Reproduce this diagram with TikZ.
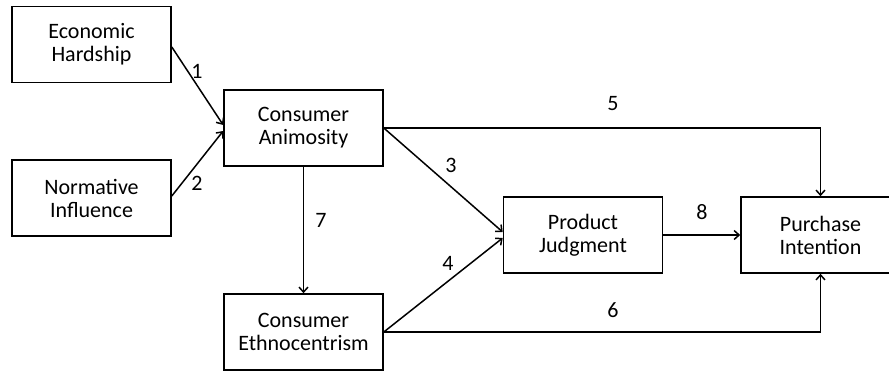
\documentclass[tikz,border=0pt]{standalone}
\usepackage{fontspec}
\setmainfont{Carlito}
\usetikzlibrary{arrows.meta}

\tikzset{
  factor/.style={draw=black, line width=1.6pt, minimum width=159pt, minimum height=76pt,
    inner sep=0pt, align=center, font=\fontsize{22}{23}\selectfont},
  path/.style={line width=1.5pt, -{Straight Barb[length=5pt,width=9pt,line width=1.5pt]}},
  num/.style={font=\fontsize{22}{23}\selectfont}
}

\begin{document}
\begin{tikzpicture}[x=1pt, y=-1pt]
  \useasboundingbox (0,0) rectangle (889,371);

  % boxes
  \node[factor] (hardship) at (91.5, 44.5) {Economic\\Hardship};
  \node[factor] (normative) at (91.5, 198) {Normative\\Influence};
  \node[factor] (animosity) at (303.5, 128) {Consumer\\Animosity};
  \node[factor] (ethno) at (303.5, 332) {Consumer\\Ethnocentrism};
  \node[factor] (judgment) at (583, 235) {Product\\Judgment};
  \node[factor] (intention) at (820.5, 235) {Purchase\\Intention};

  % paths
  \draw[path] (hardship.east |- 0,47) -- (animosity.west |- 0,125);
  \draw[path] (normative.east |- 0,196) -- (animosity.west |- 0,131);
  \draw[path] (animosity) -- (ethno);
  \draw[path] (animosity.east) -- (judgment.west |- 0,232);
  \draw[path] (ethno.east) -- (judgment.west |- 0,238);
  \draw[path] (animosity.east) -| (intention.north);
  \draw[path] (ethno.east) -| (intention.south);
  \draw[path] (judgment) -- (intention);

  % labels
  \node[num] (n1) at (197, 71) {1};
  \node[num] (n2) at (197, 183) {2};
  \node[num] (n3) at (451, 165) {3};
  \node[num] (n4) at (448, 263) {4};
  \node[num] (n5) at (613, 104) {5};
  \node[num] (n6) at (613, 310) {6};
  \node[num] (n7) at (321, 220) {7};
  \node[num] (n8) at (702, 212) {8};
\end{tikzpicture}
\end{document}
